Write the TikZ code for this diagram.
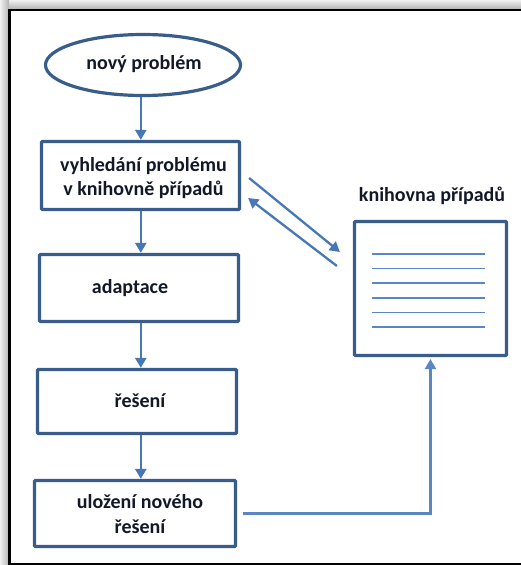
\documentclass[tikz,border=0pt]{standalone}
\usepackage{fontspec}
\setmainfont{Carlito}
\usetikzlibrary{shapes.geometric,arrows.meta,calc}

\definecolor{boxblue}{RGB}{56,93,138}
\definecolor{arrowblue}{RGB}{70,120,182}
\definecolor{lineblue}{RGB}{90,135,196}
\definecolor{inktext}{RGB}{18,24,40}

\tikzset{
  stepbox/.style={draw=boxblue, line width=3.2pt, rectangle, rounded corners=0.8pt,
    fill=white, inner sep=0pt},
  startoval/.style={draw=boxblue, line width=3.2pt, ellipse, fill=white, inner sep=0pt},
  lbl/.style={text=inktext, font=\bfseries\fontsize{20}{24.5}\selectfont,
    align=center, inner sep=0pt},
  flow/.style={draw=arrowblue, line width=2.6pt,
    -{Triangle[length=10pt,width=11pt]}},
  feed/.style={draw=arrowblue, line width=2.3pt,
    -{Triangle[length=10pt,width=11pt]}},
  record/.style={draw=lineblue, line width=1.5pt},
}

\begin{document}
\begin{tikzpicture}[x=1pt,y=-1pt]
  \useasboundingbox (0,0) rectangle (521,565);
  \clip (0,0) rectangle (521,565);

  % soft shadow along the top and left of the frame
  \shade[top color=gray!12, bottom color=gray!60] (0,0) rectangle (521,9);
  \shade[left color=gray!12, right color=gray!60] (0,0) rectangle (9,565);
  \fill[white] (9,9) rectangle (530,570);
  \draw[black, line width=2.6pt] (9.3,9.8) rectangle (540,563.8);

  % process column
  \node[startoval, minimum width=195pt, minimum height=61pt] (np) at (143,65) {};
  \node[stepbox, minimum width=198pt, minimum height=68pt] (b1) at (140.5,175.5) {};
  \node[stepbox, minimum width=199pt, minimum height=67pt] (b2) at (139,288) {};
  \node[stepbox, minimum width=199pt, minimum height=64pt] (b3) at (137,401.5) {};
  \node[stepbox, minimum width=201pt, minimum height=66pt] (b4) at (135,513.5) {};
  \coordinate (spine) at (140.8,0);

  \node[lbl] (tnp) at (144,64) {nový problém};
  \node[lbl] (tb1) at (143.5,178) {vyhledání problému\\v knihovně případů};
  \node[lbl] (tb2) at (130,288) {adaptace};
  \node[lbl] (tb3) at (140,401) {řešení};
  \node[lbl] (tb4) at (140,514) {uložení nového\\řešení};

  % case library
  \node[stepbox, minimum width=152pt, minimum height=134pt] (lib) at (430.5,288.5) {};
  \node[lbl] (tlib) at (432,196) {knihovna případů};
  \foreach \yy in {254,268.6,283.2,297.8,312.4,327} {
    \draw[record] (372,\yy) -- (485,\yy);
  }

  % flow arrows
  \draw[flow] (np.south -| spine) -- (b1.north -| spine);
  \draw[flow] (b1.south -| spine) -- (b2.north -| spine);
  \draw[flow] (b2.south -| spine) -- (b3.north -| spine);
  \draw[flow] (b3.south -| spine) -- (b4.north -| spine);

  % lookup and return between search step and library
  \coordinate (qa) at ($(b1.east)+(8,2.5)$);
  \coordinate (qb) at ($(lib.west)+(-13,-36.5)$);
  \coordinate (ra) at ($(lib.west)+(-16,-22.5)$);
  \coordinate (rb) at ($(b1.east)+(7,22.5)$);
  \draw[feed] (qa) -- (qb);
  \draw[feed] (ra) -- (rb);

  % storing the new solution back into the library
  \coordinate (sa) at ($(b4.east)+(6,0)$);
  \draw[feed, draw=lineblue] (sa) -| ($(lib.south)+(0,2)$);
\end{tikzpicture}
\end{document}
